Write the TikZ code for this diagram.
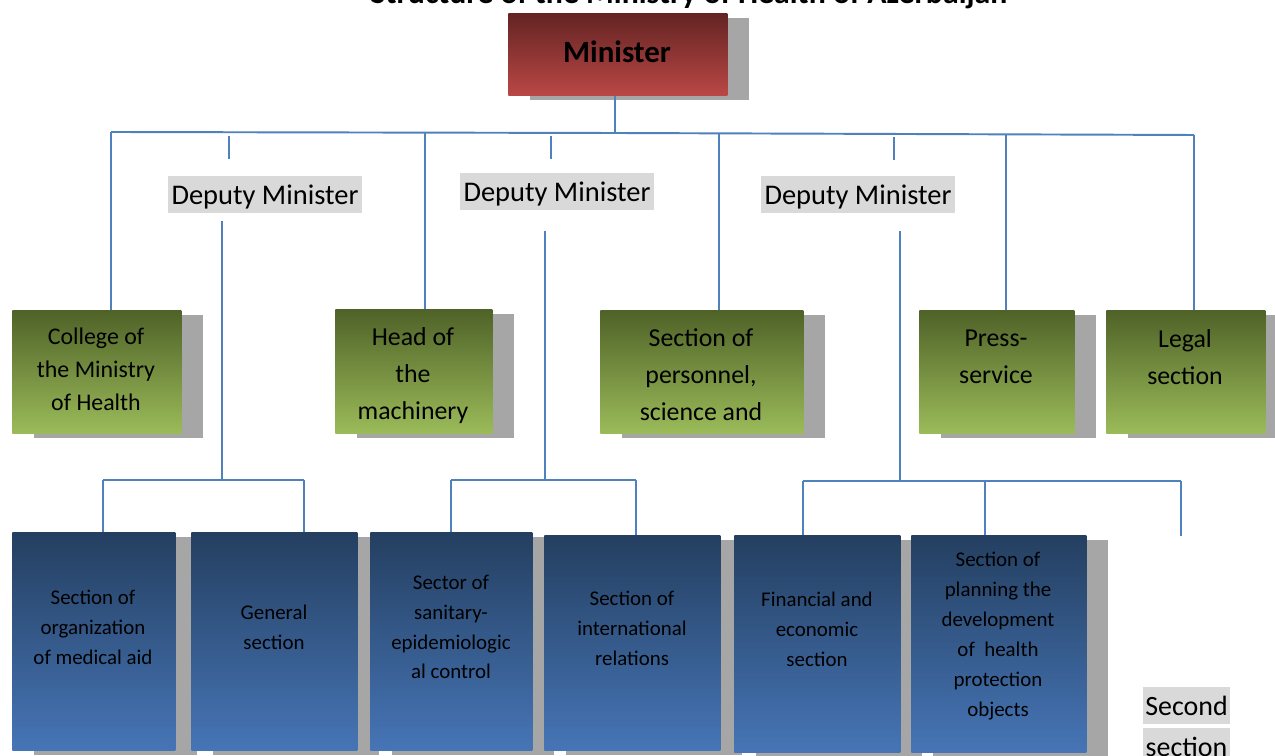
\documentclass[tikz,border=0pt]{standalone}
\usepackage{fontspec}
\setmainfont{Carlito}
\usetikzlibrary{shadows}

\definecolor{linkblue}{HTML}{4F81BD}
\definecolor{shadowgray}{HTML}{A6A6A6}
\definecolor{labelgray}{HTML}{D9D9D9}
\definecolor{redtop}{HTML}{632423}
\definecolor{redbot}{HTML}{BA4745}
\definecolor{greentop}{HTML}{4F6228}
\definecolor{greenbot}{HTML}{9BBB59}
\definecolor{bluetop}{HTML}{243F60}
\definecolor{bluebot}{HTML}{4675B6}

% rectangle from pixel corner (x1,y1) to (x2,y2), drawn with the given style
\newcommand\orgbox[6]{\node[#1, minimum width=(#4-#2)*0.02cm, minimum height=(#5-#3)*0.02cm] (#6) at (#2,#3) {};}

\begin{document}
\begin{tikzpicture}[x=0.02cm, y=-0.02cm,
  conn/.style={draw=linkblue, line width=1.1pt},
  boxshadow/.style={drop shadow={shadow xshift=0.44cm, shadow yshift=-0.09cm, fill=shadowgray, opacity=1}},
  basebox/.style={boxshadow, rectangle, inner sep=0pt, anchor=north west},
  redbox/.style={basebox, top color=redtop, bottom color=redbot},
  greenbox/.style={basebox, top color=greentop, bottom color=greenbot},
  bluebox/.style={basebox, top color=bluetop, bottom color=bluebot},
  greentext/.style={align=center, inner sep=0pt, font=\fontsize{14.7}{21}\selectfont},
  bluetext/.style={align=center, inner sep=0pt, font=\fontsize{11.9}{17}\selectfont},
  graylabel/.style={fill=labelgray, inner sep=0pt, minimum height=37*0.02cm, text height=14.5pt, text depth=3.2pt},
  deplabel/.style={graylabel, minimum width=194*0.02cm, font=\fontsize{16.2}{19}\selectfont}
]
\useasboundingbox[fill=white] (0,0) rectangle (1275,756);

% heading (runs off the top edge)
\node[anchor=base, inner sep=0pt, font=\bfseries\fontsize{18.1}{22}\selectfont] (title) at (689,4)
  {Structure of the Ministry of Health of Azerbaijan};

% ---------- connectors ----------
\coordinate (busL) at (111,132);
\coordinate (busM) at (615,133);
\coordinate (busR) at (1194,135);
\coordinate (d2) at (425,133.3);
\coordinate (d3) at (719,133.6);
\coordinate (d4) at (1006,134.3);
\coordinate (s1t) at (229,136);  \coordinate (s1b) at (229,159);
\coordinate (s2t) at (551,136);  \coordinate (s2b) at (551,159);
\coordinate (s3t) at (894,137);  \coordinate (s3b) at (894,160);

\coordinate (v1t) at (222,221);  \coordinate (v1b) at (222,480);
\coordinate (v2t) at (545,231);  \coordinate (v2b) at (545,480);
\coordinate (v3t) at (900,231);  \coordinate (v3b) at (900,481);
\coordinate (b1L) at (103,480);  \coordinate (b1R) at (304,480);
\coordinate (b2L) at (451,480);  \coordinate (b2R) at (636,480);
\coordinate (b3L) at (803,481);  \coordinate (b3M) at (985,481);
\coordinate (b3R) at (1181,481); \coordinate (b3end) at (1181,536);

% ---------- boxes ----------
\orgbox{redbox}{508}{13}{727}{95}{min}
\node[font=\bfseries\fontsize{17.6}{21}\selectfont, inner sep=0pt] (mint) at (617,52) {Minister};

\draw[conn] (min.south -| busM) -- (busM);
\draw[conn] (busL) -- (busM) -- (busR);
\draw[conn] (s1t) -- (s1b);
\draw[conn] (s2t) -- (s2b);
\draw[conn] (s3t) -- (s3b);
\draw[conn] (v1t) -- (v1b);
\draw[conn] (v2t) -- (v2b);
\draw[conn] (v3t) -- (v3b);
\draw[conn] (b1L) -- (b1R);
\draw[conn] (b2L) -- (b2R);
\draw[conn] (b3L) -- (b3R);
\draw[conn] (b3R) -- (b3end);

\orgbox{greenbox}{12}{310}{181}{433}{g1}
\orgbox{greenbox}{335}{309}{492}{433}{g2}
\orgbox{greenbox}{600}{310}{803}{433}{g3}
\orgbox{greenbox}{919}{310}{1074}{433}{g4}
\orgbox{greenbox}{1106}{310}{1265}{433}{g5}

\draw[conn] (busL) -- (busL |- g1.north);
\draw[conn] (d2) -- (d2 |- g2.north);
\draw[conn] (d3) -- (d3 |- g3.north);
\draw[conn] (d4) -- (d4 |- g4.north);
\draw[conn] (busR) -- (busR |- g5.north);

\node[greentext, font=\fontsize{13.6}{18.8}\selectfont] (g1t) at (96,369) {College of\\the Ministry\\of Health};
\node[greentext] (g2t) at (413,376) {Head of\\the\\machinery};
\node[greentext] (g3t) at (701,375) {Section of\\personnel,\\science and};
\node[greentext] (g4t) at (996,357) {Press-\\service};
\node[greentext] (g5t) at (1185,357) {Legal\\section};

\orgbox{bluebox}{12}{532}{175}{750}{bl1}
\orgbox{bluebox}{191}{532}{357}{750}{bl2}
\orgbox{bluebox}{370}{532}{532}{750}{bl3}
\orgbox{bluebox}{544}{535}{720}{750}{bl4}
\orgbox{bluebox}{734}{535}{900}{752}{bl5}
\orgbox{bluebox}{911}{535}{1086}{752}{bl6}

\draw[conn] (b1L) -- (b1L |- bl1.north);
\draw[conn] (b1R) -- (b1R |- bl2.north);
\draw[conn] (b2L) -- (b2L |- bl3.north);
\draw[conn] (b2R) -- (b2R |- bl4.north);
\draw[conn] (b3L) -- (b3L |- bl5.north);
\draw[conn] (b3M) -- (b3M |- bl6.north);

\node[bluetext] (bl1t) at (93,627) {Section of\\organization\\of medical aid};
\node[bluetext] (bl2t) at (274,627) {General\\section};
\node[bluetext] (bl3t) at (451,627) {Sector of\\sanitary-\\epidemiologic\\al control};
\node[bluetext] (bl4t) at (632,628) {Section of\\international\\relations};
\node[bluetext] (bl5t) at (817,629) {Financial and\\economic\\section};
\node[bluetext] (bl6t) at (998,636) {Section of\\planning the\\development\\of~ health\\protection\\objects};

% ---------- deputy ministers ----------
\node[deplabel] (dep1) at (265,194.5) {Deputy Minister};
\node[deplabel] (dep2) at (557,191.5) {Deputy Minister};
\node[deplabel] (dep3) at (858,194.5) {Deputy Minister};

% ---------- lone label, lower right ----------
\node[graylabel, minimum width=87*0.02cm, font=\fontsize{15.9}{19}\selectfont] (sec1) at (1186.5,705.5) {Second};
\node[graylabel, minimum width=87*0.02cm, font=\fontsize{15.9}{19}\selectfont] (sec2) at (1186.5,746.5) {section};
\end{tikzpicture}
\end{document}
